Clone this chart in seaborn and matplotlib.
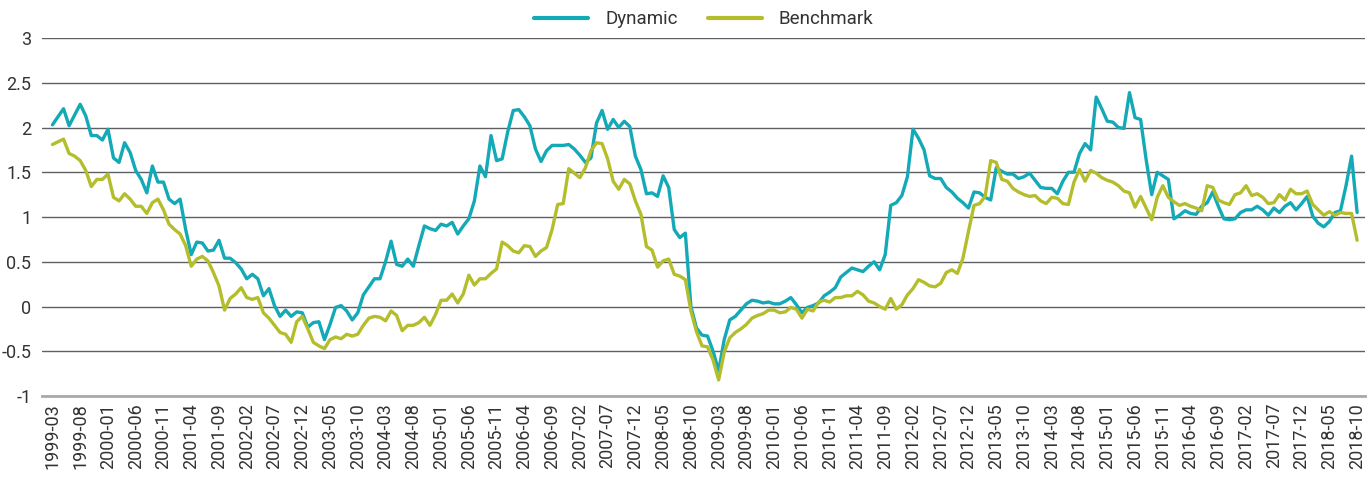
import pandas as pd
import numpy as np
import matplotlib
matplotlib.use("Agg")
import matplotlib.pyplot as plt
import seaborn as sns

# monthly observations, 1999-03 .. 2018-10
months = pd.date_range("1999-03-01", "2018-10-01", freq="MS")

dynamic = [
    2.03, 2.12, 2.21, 2.02, 2.14, 2.26, 2.13, 1.91, 1.91, 1.86,
    1.98, 1.66, 1.61, 1.83, 1.72, 1.52, 1.42, 1.27, 1.57, 1.39,
    1.39, 1.20, 1.15, 1.20, 0.86, 0.58, 0.72, 0.71, 0.62, 0.63,
    0.74, 0.54, 0.54, 0.49, 0.42, 0.31, 0.36, 0.31, 0.12, 0.20,
    0.01, -0.11, -0.04, -0.11, -0.06, -0.07, -0.23, -0.18, -0.17, -0.37,
    -0.20, -0.01, 0.01, -0.05, -0.15, -0.07, 0.13, 0.22, 0.31, 0.31,
    0.50, 0.73, 0.47, 0.45, 0.53, 0.45, 0.68, 0.90, 0.87, 0.85,
    0.92, 0.90, 0.94, 0.81, 0.90, 0.98, 1.18, 1.57, 1.45, 1.91,
    1.63, 1.65, 1.95, 2.19, 2.20, 2.12, 2.02, 1.76, 1.62, 1.74,
    1.80, 1.80, 1.80, 1.81, 1.76, 1.69, 1.61, 1.66, 2.05, 2.19,
    1.98, 2.09, 2.00, 2.07, 2.01, 1.68, 1.53, 1.26, 1.27, 1.23,
    1.46, 1.33, 0.86, 0.77, 0.82, 0.00, -0.24, -0.32, -0.33, -0.50,
    -0.72, -0.37, -0.15, -0.11, -0.04, 0.03, 0.07, 0.06, 0.04, 0.05,
    0.03, 0.03, 0.06, 0.10, 0.02, -0.07, -0.01, 0.01, 0.04, 0.12,
    0.16, 0.21, 0.33, 0.38, 0.43, 0.41, 0.39, 0.45, 0.50, 0.41,
    0.58, 1.13, 1.16, 1.24, 1.45, 1.98, 1.88, 1.75, 1.46, 1.43,
    1.43, 1.33, 1.28, 1.21, 1.16, 1.10, 1.28, 1.27, 1.22, 1.19,
    1.55, 1.51, 1.48, 1.48, 1.43, 1.45, 1.49, 1.41, 1.33, 1.32,
    1.32, 1.26, 1.40, 1.50, 1.50, 1.71, 1.82, 1.75, 2.34, 2.21,
    2.07, 2.06, 2.00, 1.99, 2.39, 2.11, 2.09, 1.64, 1.25, 1.50,
    1.46, 1.42, 0.98, 1.02, 1.07, 1.04, 1.03, 1.12, 1.16, 1.28,
    1.12, 0.98, 0.97, 0.98, 1.05, 1.08, 1.08, 1.12, 1.08, 1.02,
    1.10, 1.05, 1.12, 1.16, 1.08, 1.15, 1.23, 1.01, 0.93, 0.89,
    0.95, 1.05, 1.07, 1.35, 1.68, 1.05,
]

benchmark = [
    1.81, 1.84, 1.87, 1.71, 1.68, 1.63, 1.52, 1.34, 1.42, 1.42,
    1.48, 1.22, 1.18, 1.26, 1.20, 1.12, 1.12, 1.04, 1.16, 1.20,
    1.08, 0.92, 0.86, 0.81, 0.68, 0.45, 0.53, 0.56, 0.51, 0.38,
    0.23, -0.04, 0.09, 0.14, 0.21, 0.10, 0.08, 0.10, -0.07, -0.13,
    -0.21, -0.29, -0.31, -0.40, -0.17, -0.11, -0.25, -0.40, -0.44, -0.47,
    -0.37, -0.34, -0.36, -0.31, -0.33, -0.31, -0.21, -0.13, -0.11, -0.12,
    -0.16, -0.05, -0.10, -0.27, -0.21, -0.21, -0.18, -0.12, -0.21, -0.09,
    0.07, 0.07, 0.14, 0.04, 0.14, 0.35, 0.24, 0.31, 0.31, 0.37,
    0.42, 0.72, 0.68, 0.62, 0.60, 0.68, 0.67, 0.56, 0.62, 0.66,
    0.86, 1.14, 1.15, 1.54, 1.49, 1.44, 1.55, 1.74, 1.83, 1.82,
    1.65, 1.40, 1.31, 1.42, 1.37, 1.18, 1.03, 0.67, 0.63, 0.44,
    0.51, 0.53, 0.36, 0.34, 0.30, -0.05, -0.28, -0.44, -0.45, -0.60,
    -0.82, -0.51, -0.35, -0.29, -0.25, -0.20, -0.13, -0.10, -0.08, -0.04,
    -0.04, -0.07, -0.06, -0.01, -0.03, -0.13, -0.03, -0.05, 0.05, 0.07,
    0.05, 0.10, 0.10, 0.12, 0.12, 0.17, 0.13, 0.06, 0.04, 0.00,
    -0.03, 0.09, -0.03, 0.02, 0.13, 0.20, 0.30, 0.27, 0.23, 0.22,
    0.26, 0.38, 0.41, 0.37, 0.54, 0.84, 1.13, 1.15, 1.23, 1.63,
    1.61, 1.42, 1.40, 1.32, 1.28, 1.25, 1.23, 1.24, 1.18, 1.15,
    1.22, 1.21, 1.15, 1.14, 1.39, 1.53, 1.40, 1.52, 1.49, 1.44,
    1.41, 1.39, 1.35, 1.29, 1.27, 1.11, 1.23, 1.10, 0.97, 1.22,
    1.35, 1.22, 1.17, 1.13, 1.15, 1.12, 1.10, 1.07, 1.35, 1.33,
    1.19, 1.16, 1.14, 1.25, 1.27, 1.35, 1.24, 1.26, 1.22, 1.15,
    1.16, 1.25, 1.19, 1.31, 1.26, 1.26, 1.29, 1.14, 1.08, 1.02,
    1.06, 1.02, 1.05, 1.04, 1.04, 0.74,
]

series_names = ["Dynamic", "Benchmark"]
colors = ["#13A9B7", "#B4BD2C"]
ytick_vals = [-1, -0.5, 0, 0.5, 1, 1.5, 2, 2.5, 3]
ytick_labels = ["-1", "-0.5", "0", "0.5", "1", "1.5", "2", "2.5", "3"]

df = pd.DataFrame({
    "idx": np.tile(np.arange(len(months)), 2),
    "value": dynamic + benchmark,
    "series": np.repeat(series_names, len(months)),
})

sns.set_theme(style="white")
plt.rcParams["font.family"] = ["Roboto", "DejaVu Sans"]
text_col = "#333333"

fig = plt.figure(figsize=(13.69, 4.78), dpi=100)
ax = fig.add_axes([0.031, 0.1715, 0.966, 0.749])

sns.lineplot(data=df, x="idx", y="value", hue="series", hue_order=series_names,
             palette=colors, linewidth=2.4, ax=ax, legend=True)

ax.set_xlim(-1.8, 236.4)
ax.set_ylim(-1, 3)
ax.set_yticks(ytick_vals)
ax.set_yticklabels(ytick_labels, fontsize=13, color=text_col)
tick_pos = list(range(0, len(months), 5))
ax.set_xticks(tick_pos)
ax.set_xticklabels([months[i].strftime("%Y-%m") for i in tick_pos],
                   rotation=90, fontsize=13, color=text_col)
ax.tick_params(axis="both", length=0)
ax.tick_params(axis="y", pad=8)
ax.tick_params(axis="x", pad=5)
ax.set_xlabel("")
ax.set_ylabel("")

ax.yaxis.grid(True, color="#5e6064", linewidth=1.0)
ax.xaxis.grid(False)
ax.set_axisbelow(True)
for s in ["top", "right", "left"]:
    ax.spines[s].set_visible(False)
ax.spines["bottom"].set_color("#a7a9ac")
ax.spines["bottom"].set_linewidth(2)

handles, labels = ax.get_legend_handles_labels()
for h in handles:
    h.set_linewidth(3)
ax.legend(handles, labels, loc="center", bbox_to_anchor=(0.5, 1.052),
          ncol=2, frameon=False, fontsize=13.5, handlelength=2.9,
          handletextpad=0.9, columnspacing=1.6, labelcolor=text_col)

fig.savefig("out.png", dpi=100)
